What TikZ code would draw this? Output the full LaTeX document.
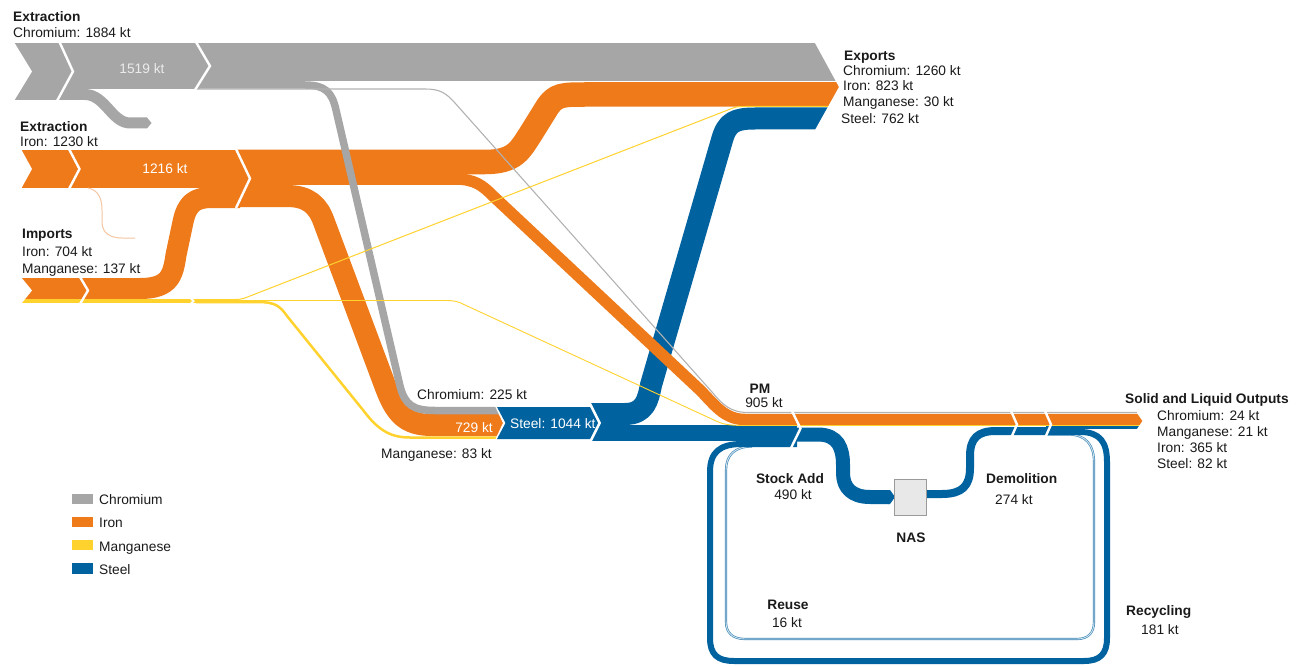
\documentclass[tikz,border=0pt]{standalone}
\usepackage{fontspec}
\setmainfont{Liberation Sans}
\definecolor{cr}{HTML}{A6A6A6}
\definecolor{crthin}{HTML}{B2B2B2}
\definecolor{fe}{HTML}{EE7A1A}
\definecolor{fethin}{HTML}{F5C6A2}
\definecolor{mn}{HTML}{FFD22E}
\definecolor{st}{HTML}{00629F}
\definecolor{ink}{HTML}{1A1A1A}
\definecolor{nasfill}{HTML}{E8E8E8}
\definecolor{nasedge}{HTML}{9A9A9A}
\tikzset{
  flow/.style={line cap=butt, line join=round},
  cut/.style={draw=white, line width=2.4pt, line join=miter, line cap=butt},
  lbl/.style={font=\fontsize{13.75}{16}\selectfont, text=ink, inner sep=0pt, anchor=base west},
  ttl/.style={font=\fontsize{13.75}{16}\selectfont\bfseries, text=ink, inner sep=0pt, anchor=base west},
  ttlc/.style={font=\fontsize{13.75}{16}\selectfont\bfseries, text=ink, inner sep=0pt, anchor=base},
  lblc/.style={font=\fontsize{13.75}{16}\selectfont, text=ink, inner sep=0pt, anchor=base},
  inband/.style={font=\fontsize{13.75}{16}\selectfont, text=white, inner sep=0pt, anchor=base},
}
\begin{document}
\begin{tikzpicture}[x=1pt,y=-1pt]
\useasboundingbox (0,0) rectangle (1304,666);

% ---------- key points ----------
\coordinate (steelSplit) at (589,414);
\coordinate (steelLow) at (589,433);
\coordinate (pmOut) at (797,434.5);
\coordinate (nasW) at (889,497);
\coordinate (nasE) at (926,494);
\coordinate (demJoin) at (1046,431);

% ---------- steel (blue) ----------
% reuse loop (thin, pale)
\draw[flow, st!75, line width=2.2pt] (1046,434.5) -- (1068,434.5) .. controls (1086,434.5) and (1094,445) .. (1094,462) -- (1094,622) .. controls (1094,633) and (1088,639) .. (1077,639) -- (745,639) .. controls (733,639) and (726,633) .. (726,622) -- (726,470) .. controls (726,455) and (735,446.5) .. (752,446.5);
\draw[flow, st!18, line width=0.9pt] (1046,434.5) -- (1068,434.5) .. controls (1086,434.5) and (1094,445) .. (1094,462) -- (1094,622) .. controls (1094,633) and (1088,639) .. (1077,639) -- (745,639) .. controls (733,639) and (726,633) .. (726,622) -- (726,470) .. controls (726,455) and (735,446.5) .. (752,446.5);
% recycling loop
\draw[flow, st, line width=6pt] (1046,432) -- (1080,432) .. controls (1100,432) and (1107,442) .. (1107,462) -- (1107,638) .. controls (1107,654) and (1100,661) .. (1084,661) -- (734,661) .. controls (717,661) and (710,654) .. (710,638) -- (710,472) .. controls (710,452) and (720,444) .. (742,444) -- (797,444);
% steel to exports
\draw[flow, st, line width=22pt] (steelSplit) -- (625,414) .. controls (645,414) and (648,400) .. (651,385) -- (722,140) .. controls (727,122) and (735,118.5) .. (755,118.5) -- (845,118.5);
% steel on to PM
\draw[flow, st, line width=16pt] (steelLow) -- (797,433);
% stock add
\draw[flow, st, line width=14pt] (pmOut) -- (818,434.5) .. controls (838,434.5) and (843,448) .. (843,465) -- (843,473) .. controls (843,488) and (852,497) .. (870,497) -- (nasW);
\fill[st] (888,490) -- (890,490) -- (895,497) -- (890,504) -- (888,504) -- cycle;
% demolition
\draw[flow, st, line width=8pt] (nasE) -- (942,494) .. controls (962,494) and (970,486) .. (970,468) -- (970,456) .. controls (970,438) and (978,431) .. (996,431) -- (demJoin);
\draw[flow, st, line width=2.5pt] (1046,427.25) -- (1145,427.25);

% ---------- iron (orange) ----------
\fill[fe] (22,150) rectangle (240,188);
\draw[flow, fethin, line width=1pt] (88,188) .. controls (98,190) and (102,198) .. (102,210) -- (102,222) .. controls (102,233) and (110,238) .. (122,238) -- (135,238);
% imports rising into the extraction stream
\draw[flow, fe, line width=21pt] (22,288.5) -- (140,288.5) .. controls (170,288.5) and (173,275) .. (176,255) -- (183,222) .. controls (187,203) and (195,197.5) .. (212,197.5) -- (240,197.5);
% to exports
\draw[flow, fe, line width=24.5pt] (236,162) -- (485,162) .. controls (515,162) and (520,150) .. (530,135) -- (548,106) .. controls (556,95) and (562,94.5) .. (585,94.5) -- (845,94.5);
% to PM and outputs
\draw[flow, fe, line width=11.5pt] (236,179) -- (455,179) .. controls (475,179) and (483,186) .. (492,195) -- (700,390) .. controls (714,404) and (724,419.5) .. (745,419.5) -- (1145,419.5);
% 729 kt into steel making
\draw[flow, fe, line width=22pt] (236,196) -- (287,196) .. controls (308,196) and (318,205) .. (324,222) -- (386,388) .. controls (396,414) and (406,425) .. (432,425) -- (510,425);

% ---------- chromium (grey) ----------
\fill[cr] (15,43) rectangle (200,89);
\fill[cr] (15,88) rectangle (62,100);
\draw[flow, cr, line width=11pt] (60,94.5) -- (85,94.5) .. controls (105,94.5) and (112,123) .. (130,123) -- (146,123);
\fill[cr] (145.5,117.5) -- (147,117.5) -- (151.5,123) -- (147,128.5) -- (145.5,128.5) -- cycle;
\draw[flow, cr, line width=38pt] (196,62) -- (845,62);
\draw[flow, cr, line width=7.5pt] (196,85) -- (305,85) .. controls (325,85) and (332,92) .. (336,110) -- (400,386) .. controls (405,405) and (413,410.5) .. (435,410.5) -- (510,410.5);
\draw[flow, crthin, line width=1.1pt] (196,89) -- (425,89) .. controls (440,89) and (446,93) .. (455,103) -- (712,392) .. controls (722,404) and (730,412.5) .. (748,412.5) -- (1145,412.5);

% ---------- manganese (yellow) ----------
\draw[flow, mn, line width=4pt] (22,301) -- (200,301);
\draw[flow, mn, line width=1pt] (196,299.5) -- (235,299.5) .. controls (242,299.5) and (245,298) .. (250,296) -- (733,108) .. controls (737,106.5) and (740,106.5) .. (745,106.5) -- (845,106.5);
\draw[flow, mn, line width=0.9pt] (196,300.5) -- (445,300.5) .. controls (455,300.5) and (458,301.5) .. (465,305) -- (715,420.5) .. controls (722,424) and (728,425.5) .. (745,425.5) -- (1145,425.5);
\draw[flow, mn, line width=2.5pt] (196,302) -- (258,302) .. controls (275,302) and (280,306) .. (287,316) -- (363,410) .. controls (378,430) and (390,437.5) .. (410,437.5) -- (510,437.5);

% ---------- chevron cuts ----------
\fill[white] (14,42) -- (32,71.5) -- (14,101) -- cycle;
\fill[white] (21,149) -- (32,169) -- (21,189) -- cycle;
\fill[white] (21,277) -- (32,290.5) -- (21,304) -- cycle;
\draw[cut] (59.5,42) -- (73,71.5) -- (57,101);
\draw[cut] (196,42) -- (210,66) -- (195,90);
\draw[cut] (69,149) -- (79.5,169) -- (69,189);
\draw[cut] (236,149) -- (250,178.5) -- (236,208);
\draw[cut] (80,277) -- (88,290.5) -- (80,304);
\draw[cut, line width=2pt] (190.5,298) -- (193.5,301) -- (190.5,304);
\draw[cut] (791,409) -- (800.5,428.5) -- (791,448);
\draw[cut] (1011,411) -- (1017,424.5) -- (1011,438);
\draw[cut] (1045,411) -- (1051,424.5) -- (1045,438);
% arrow heads at exports and outputs
\fill[white] (815,36) -- (815,43) -- (839,87) -- (815,130) -- (815,137) -- (860,137) -- (860,36) -- cycle;
\fill[white] (1137,408) -- (1137,413) -- (1142.5,421) -- (1137,429) -- (1137,434) -- (1150,434) -- (1150,408) -- cycle;
% steel making segment
\fill[white] (494,404) -- (503,423) -- (494,442) -- (515,442) -- (515,404) -- cycle;
\fill[white] (584,400) -- (591,400) -- (591,403) -- (601,423) -- (591,443) -- (591,447) -- (584,447) -- cycle;
\fill[st] (497,407) -- (590,407) -- (598,423) -- (590,439) -- (497,439) -- (505.5,423) -- cycle;

% ---------- NAS box ----------
\node[draw=nasedge, fill=nasfill, line width=1pt, minimum width=32pt, minimum height=36pt, inner sep=0pt] (nas) at (910,497) {};

% ---------- labels ----------
\node[ttl] (t1) at (13,22) {Extraction};
\node[lbl] (t2) at (13,38) {Chromium: 1884 kt};
\node[inband, text=white!92!black] (t3) at (142,74) {1519 kt};
\node[ttl] (t4) at (20,132) {Extraction};
\node[lbl] (t5) at (20,147) {Iron: 1230 kt};
\node[inband] (t6) at (165,174) {1216 kt};
\node[ttl] (t7) at (22,238) {Imports};
\node[lbl] (t8) at (22,256) {Iron: 704 kt};
\node[lbl] (t9) at (22,273) {Manganese: 137 kt};
\node[ttl] (e0) at (844,61) {Exports};
\node[lbl] (e1) at (843,76) {Chromium: 1260 kt};
\node[lbl] (e2) at (843,91) {Iron: 823 kt};
\node[lbl] (e3) at (843,107) {Manganese: 30 kt};
\node[lbl] (e4) at (841,124) {Steel: 762 kt};
\node[lbl] (s1) at (417,399) {Chromium: 225 kt};
\node[inband] (s2) at (474,432) {729 kt};
\node[inband, anchor=base west] (s3) at (510,428) {Steel: 1044 kt};
\node[lbl] (s4) at (381,458) {Manganese: 83 kt};
\node[ttlc] (p1) at (760,393) {PM};
\node[lblc] (p2) at (764,407) {905 kt};
\node[ttl] (o0) at (1125,403) {Solid and Liquid Outputs};
\node[lbl] (o1) at (1157,420) {Chromium: 24 kt};
\node[lbl] (o2) at (1157,436) {Manganese: 21 kt};
\node[lbl] (o3) at (1157,452) {Iron: 365 kt};
\node[lbl] (o4) at (1157,468) {Steel: 82 kt};
\node[ttlc] (k1) at (790,483) {Stock Add};
\node[lblc] (k2) at (793,499) {490 kt};
\node[ttlc] (k3) at (911,542) {NAS};
\node[ttl] (d1) at (986,483) {Demolition};
\node[lbl] (d2) at (995,504) {274 kt};
\node[ttlc] (r1) at (788,609) {Reuse};
\node[lblc] (r2) at (787,627) {16 kt};
\node[ttl] (c1) at (1126,615) {Recycling};
\node[lbl] (c2) at (1141,634) {181 kt};

% ---------- legend ----------
\fill[cr] (72,494) rectangle (93,504);
\fill[fe] (72,517) rectangle (93,527);
\fill[mn] (72,540) rectangle (93,550);
\fill[st] (72,563) rectangle (93,574);
\node[lbl] (g1) at (99,504) {Chromium};
\node[lbl] (g2) at (99,527) {Iron};
\node[lbl] (g3) at (99,551) {Manganese};
\node[lbl] (g4) at (99,574) {Steel};
\end{tikzpicture}
\end{document}
